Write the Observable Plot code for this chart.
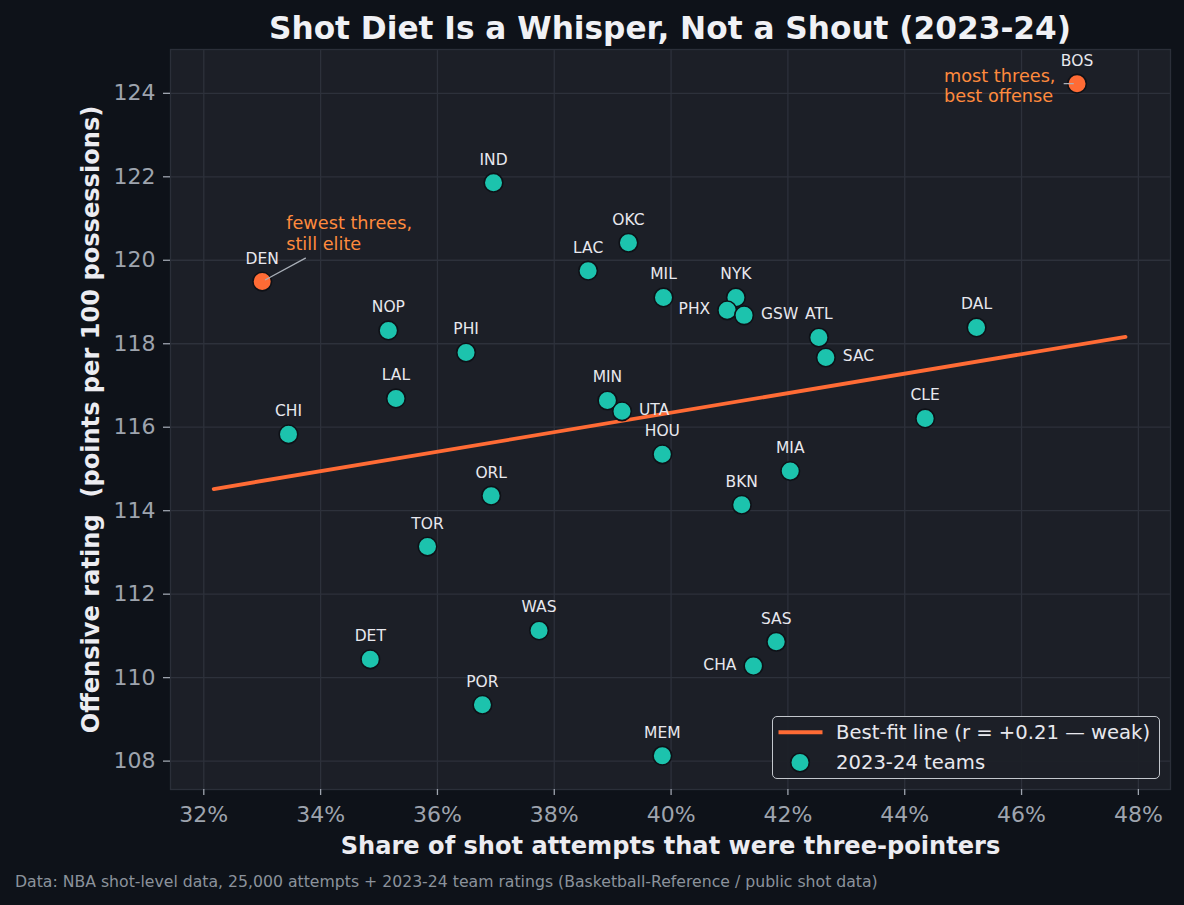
<!DOCTYPE html>
<html>
<head>
<meta charset="utf-8">
<script src="https://cdn.jsdelivr.net/npm/d3@7"></script>
<script src="https://cdn.jsdelivr.net/npm/@observablehq/plot@0.6"></script>
<style>
  html, body { margin: 0; padding: 0; background: #0e1219; }
  #wrap { position: relative; width: 1184px; height: 905px; overflow: hidden; font-family: "DejaVu Sans", sans-serif; }
  #title { position: absolute; left: 0; width: 1340px; top: 13px; text-align: center; font-size: 31.2px; line-height: 1; font-weight: bold; color: #f0f1f5; white-space: nowrap; }
  #footer { position: absolute; left: 15px; top: 874px; font-size: 15.7px; line-height: 1; color: #8b929c; white-space: nowrap; }
  #chart { position: absolute; left: 0; top: 0; }
  #legend { position: absolute; left: 772px; top: 716px; width: 388px; height: 63px; box-sizing: border-box; border: 1.5px solid #c3c7cd; border-radius: 5px; background: rgba(28, 31, 39, 0.92); }
  #legend svg { position: absolute; left: -1.5px; top: -1.5px; overflow: visible; }
</style>
</head>
<body>
<div id="wrap">
  <div id="chart"></div>
  <div id="title">Shot Diet Is a Whisper, Not a Shout (2023-24)</div>
  <div id="legend"></div>
  <div id="footer">Data: NBA shot-level data, 25,000 attempts + 2023-24 team ratings (Basketball-Reference / public shot data)</div>
</div>
<script>
// ---- data ----
const teams      = ["BOS","DEN","IND","OKC","LAC","MIL","NYK","PHX","GSW","ATL","SAC","DAL","NOP","PHI","LAL","CHI","MIN","UTA","HOU","CLE","MIA","BKN","ORL","TOR","WAS","SAS","CHA","DET","POR","MEM"];
const threeShare = [46.95,33.00,36.96,39.27,38.58,39.87,41.11,40.96,41.25,42.53,42.65,45.23,35.16,36.49,35.29,33.45,38.91,39.16,39.85,44.35,42.04,41.21,36.92,35.83,37.74,41.80,41.41,34.85,36.77,39.85];
const offRating  = [124.23,119.49,121.86,120.42,119.75,119.11,119.11,118.80,118.68,118.15,117.67,118.39,118.32,117.79,116.69,115.83,116.64,116.38,115.35,116.21,114.95,114.14,114.36,113.14,111.13,110.86,110.28,110.44,109.35,108.13];
const highlighted = ["DEN","BOS"];
const labelLeft   = ["PHX","CHA"];
const labelRight  = ["GSW","SAC","UTA"];
const xTicks = [32,34,36,38,40,42,44,46,48];
const yTicks = [108,110,112,114,116,118,120,122,124];
const fitXRange = [32.17, 47.78];
const annotations = [
  {team: "DEN", text: "fewest threes,\nstill elite", fromX: 33.74, fromY: 120.05},
  {team: "BOS", text: "most threes,\nbest offense", fromX: 46.73, fromY: 124.23}
];
const xLabel = "Share of shot attempts that were three-pointers";
const yLabel = "Offensive rating\u00a0 (points per 100 possessions)";
const fitLabel = "Best-fit line (r = +0.21 \u2014 weak)";
const teamsLabel = "2023-24 teams";

// ---- build table ----
const rows = teams.map((t, i) => ({team: t, x: threeShare[i], y: offRating[i]}));

// least-squares fit from the data
const mx = d3.mean(rows, d => d.x), my = d3.mean(rows, d => d.y);
const sxy = d3.sum(rows, d => (d.x - mx) * (d.y - my));
const sxx = d3.sum(rows, d => (d.x - mx) ** 2);
const slope = sxy / sxx, intercept = my - slope * mx;
const fitLine = fitXRange.map(x => ({x, y: intercept + slope * x}));

const annRows = annotations.map(a => {
  const r = rows.find(d => d.team === a.team);
  return {...a, x: r.x, y: r.y};
});

const TEAL = "#1cc3ad", ORANGE = "#ff6b35", ANNO = "#ff8a3d", EDGE = "#0e1117";
const GRID = "#2d313b", LABEL = "#e8e8ee";

const above = rows.filter(d => !labelLeft.includes(d.team) && !labelRight.includes(d.team));
const left = rows.filter(d => labelLeft.includes(d.team));
const right = rows.filter(d => labelRight.includes(d.team));

const chart = Plot.plot({
  width: 1184,
  height: 905,
  marginTop: 49,
  marginBottom: 116,
  marginLeft: 170,
  marginRight: 14,
  style: {background: "transparent", color: "#9ea4ae", fontFamily: "DejaVu Sans, sans-serif", overflow: "visible"},
  x: {domain: [31.43, 48.55]},
  y: {domain: [107.32, 125.05]},
  marks: [
    Plot.frame({fill: "#1c1f27", stroke: null}),
    Plot.gridX(xTicks, {stroke: GRID, strokeOpacity: 1, strokeWidth: 1.3}),
    Plot.gridY(yTicks, {stroke: GRID, strokeOpacity: 1, strokeWidth: 1.3}),
    Plot.frame({stroke: "#2b2f39", strokeWidth: 1.3}),
    Plot.axisX(xTicks, {tickSize: 6, tickPadding: 11, fontSize: 22, tickFormat: d => d + "%", label: null, strokeWidth: 1.3}),
    Plot.axisY(yTicks, {tickSize: 7, tickPadding: 8, fontSize: 22, label: null, strokeWidth: 1.3}),
    Plot.text([xLabel], {text: d => d, frameAnchor: "bottom", textAnchor: "middle", dy: 64, fontSize: 24.1, fontWeight: "bold", fill: "#ececf1"}),
    Plot.text([yLabel], {text: d => d, frameAnchor: "left", textAnchor: "middle", dx: -79, rotate: -90, fontSize: 24.1, fontWeight: "bold", fill: "#ececf1"}),
    Plot.line(fitLine, {x: "x", y: "y", stroke: ORANGE, strokeWidth: 3.8}),
    Plot.dot(rows.filter(d => !highlighted.includes(d.team)), {x: "x", y: "y", r: 9.3, fill: TEAL, stroke: EDGE, strokeWidth: 1.6}),
    Plot.dot(rows.filter(d => highlighted.includes(d.team)), {x: "x", y: "y", r: 9.3, fill: ORANGE, stroke: EDGE, strokeWidth: 1.6}),
    Plot.text(above, {x: "x", y: "y", text: "team", dy: -23, fontSize: 15.5, fill: LABEL}),
    Plot.text(left, {x: "x", y: "y", text: "team", dx: -17, dy: -1, textAnchor: "end", fontSize: 15.5, fill: LABEL}),
    Plot.text(right, {x: "x", y: "y", text: "team", dx: 17, dy: -1, textAnchor: "start", fontSize: 15.5, fill: LABEL}),
    Plot.arrow(annRows, {x1: "fromX", y1: "fromY", x2: "x", y2: "y", headLength: 0, insetEnd: 3.8, stroke: "#a9afb8", strokeWidth: 1.3}),
    Plot.text(annRows.filter(d => d.team === "DEN"), {x: "x", y: "y", text: "text", dx: 24, dy: -48.5, textAnchor: "start", lineHeight: 1.16, fontSize: 17.7, fill: ANNO}),
    Plot.text(annRows.filter(d => d.team === "BOS"), {x: "x", y: "y", text: "text", dx: -133, dy: 1.7, textAnchor: "start", lineHeight: 1.16, fontSize: 17.7, fill: ANNO})
  ]
});
document.getElementById("chart").appendChild(chart);

// ---- legend ----
const lg = d3.select("#legend").append("svg").attr("width", 388).attr("height", 63);
lg.append("line").attr("x1", 6.5).attr("x2", 50.5).attr("y1", 16.3).attr("y2", 16.3)
  .attr("stroke", ORANGE).attr("stroke-width", 4);
lg.append("circle").attr("cx", 28).attr("cy", 46.5).attr("r", 9.3)
  .attr("fill", TEAL).attr("stroke", EDGE).attr("stroke-width", 1.6);
lg.append("text").attr("x", 64).attr("y", 23.3).attr("fill", "#e8e8ee")
  .attr("font-family", "DejaVu Sans, sans-serif").attr("font-size", 19.6).text(fitLabel);
lg.append("text").attr("x", 64).attr("y", 52.5).attr("fill", "#e8e8ee")
  .attr("font-family", "DejaVu Sans, sans-serif").attr("font-size", 19.6).text(teamsLabel);
</script>
</body>
</html>
